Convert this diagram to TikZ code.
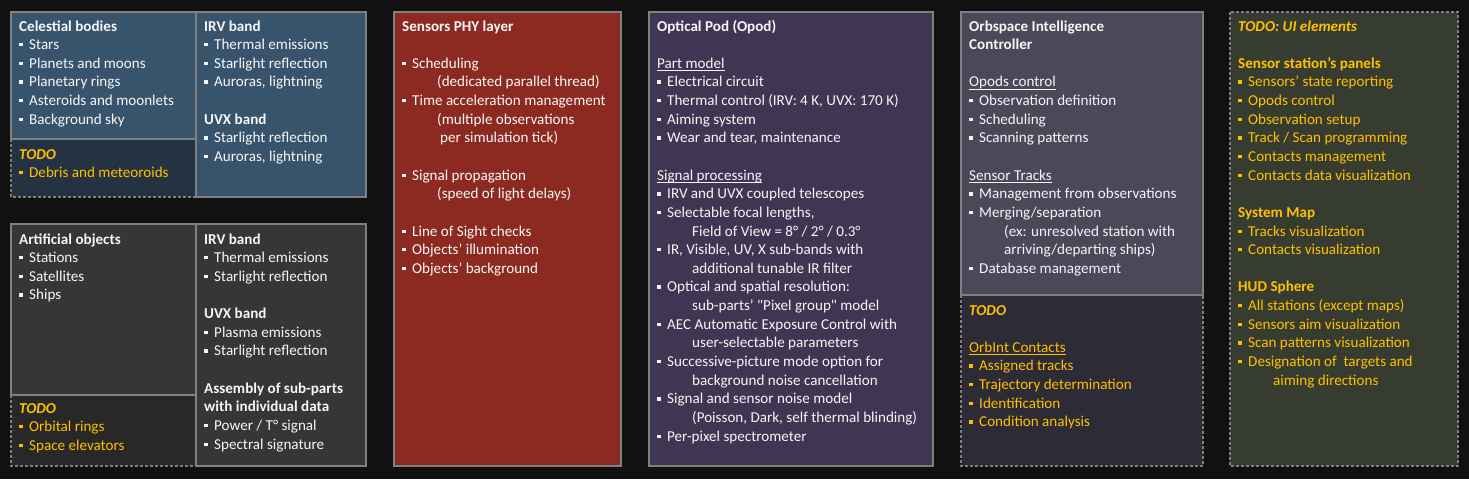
\documentclass[tikz,border=0pt]{standalone}
\usepackage{fontspec}
\setmainfont{Carlito}
\newfontfamily\qfont{Carlito}[Ligatures=TeXOff]
\usetikzlibrary{positioning}
\definecolor{bgc}{HTML}{111111}
\definecolor{bluep}{HTML}{38546C}
\definecolor{bluet}{HTML}{243241}
\definecolor{greyp}{HTML}{363636}
\definecolor{greyt}{HTML}{282828}
\definecolor{redp}{HTML}{8C2A21}
\definecolor{purp}{HTML}{3E3653}
\definecolor{orbp}{HTML}{4A4859}
\definecolor{orbt}{HTML}{2D2B35}
\definecolor{olvp}{HTML}{363C2F}
\definecolor{brd}{HTML}{808080}
\definecolor{txt}{HTML}{F6F6F6}
\definecolor{yel}{HTML}{FFC000}
\newcommand\bul{\hbox to 10pt{\raise3.2pt\hbox{\vrule width3.3pt height3.3pt}\hss}}
\newcommand\Tl[1]{\hbox{\bfseries #1}}
\newcommand\Td[1]{\hbox{\bfseries\itshape #1}}
\newcommand\It[1]{\hbox{\bul #1}}
\newcommand\Cn[1]{\hbox{\kern35pt #1}}
\newcommand\Bl{\hbox{}}
\newcommand\Ul[1]{\hbox{\setbox0\hbox{#1}\rlap{\vrule width\wd0 height-1.6pt depth2.5pt}\box0}}
\newcommand\Blk[1]{\vtop{\hsize=300pt\baselineskip=18.64pt\lineskiplimit=-\maxdimen\lineskip=0pt #1}}
\tikzset{
  panel/.style={draw=brd, line width=1.3pt},
  todo/.style={draw=brd, line width=1.3pt, dash pattern=on 3pt off 2pt},
  txtb/.style={anchor=base west, inner sep=0pt, text=txt, font=\fontsize{15.1pt}{18.64pt}\selectfont},
  txty/.style={txtb, text=yel}
}
\begin{document}
\begin{tikzpicture}[x=1pt,y=-1pt]
\useasboundingbox (0,0) rectangle (1469,479);
\fill[bgc] (0,0) rectangle (1469,479);
% dashed TODO areas first
\filldraw[todo, fill=bluet] (11,139) rectangle (196,197);
\filldraw[todo, fill=greyt] (11,395) rectangle (196,466);
\filldraw[todo, fill=orbt] (961,295) rectangle (1203,466);
\filldraw[todo, fill=olvp] (1230,12) rectangle (1458,466);
% solid panels
\filldraw[panel, fill=bluep] (11,12) rectangle (196,139);
\filldraw[panel, fill=bluep] (196,12) rectangle (366,197);
\filldraw[panel, fill=greyp] (11,224) rectangle (196,395);
\filldraw[panel, fill=greyp] (196,224) rectangle (366,466);
\filldraw[panel, fill=redp] (394,12) rectangle (621,466);
\filldraw[panel, fill=purp] (649,12) rectangle (933,466);
\filldraw[panel, fill=orbp] (961,12) rectangle (1203,295);

\node[txtb] (celest) at (19,31) {\Blk{\Tl{Celestial bodies}\It{Stars}\It{Planets and moons}\It{Planetary rings}\It{Asteroids and moonlets}\It{Background sky}}};
\node[txty] (celtodo) at (19,159) {\Blk{\Td{TODO}\It{Debris and meteoroids}}};
\node[txtb] (celband) at (204,31) {\Blk{\Tl{IRV band}\It{Thermal emissions}\It{Starlight reflection}\It{Auroras, lightning}\Bl\Tl{UVX band}\It{Starlight reflection}\It{Auroras, lightning}}};

\node[txtb] (artif) at (19,244) {\Blk{\Tl{Artificial objects}\It{Stations}\It{Satellites}\It{Ships}}};
\node[txty] (arttodo) at (19,413) {\Blk{\Td{TODO}\It{Orbital rings}\It{Space elevators}}};
\node[txtb] (artband) at (204,244) {\Blk{\Tl{IRV band}\It{Thermal emissions}\It{Starlight reflection}\Bl\Tl{UVX band}\It{Plasma emissions}\It{Starlight reflection}\Bl\Tl{Assembly of sub-parts}\Tl{with individual data}\It{Power / T° signal}\It{Spectral signature}}};

\node[txtb] (phy) at (402,31) {\Blk{\Tl{Sensors PHY layer}\Bl\It{Scheduling}\Cn{(dedicated parallel thread)}\It{Time acceleration management}\Cn{(multiple observations}\Cn{\kern3pt per simulation tick)}\Bl\It{Signal propagation}\Cn{(speed of light delays)}\Bl\It{Line of Sight checks}\It{Objects’ illumination}\It{Objects’ background}}};

\node[txtb] (opod) at (657,31) {\Blk{\Tl{Optical Pod (Opod)}\Bl\Ul{Part model}\It{Electrical circuit}\It{Thermal control (IRV: 4 K, UVX: 170 K)}\It{Aiming system}\It{Wear and tear, maintenance}\Bl\Ul{Signal processing}\It{IRV and UVX coupled telescopes}\It{Selectable focal lengths,}\Cn{Field of View = 8° / 2° / 0.3°}\It{IR, Visible, UV, X sub-bands with}\Cn{additional tunable IR filter}\It{Optical and spatial resolution:}\Cn{sub-parts’ {\qfont"}Pixel group{\qfont"} model}\It{AEC Automatic Exposure Control with}\Cn{user-selectable parameters}\It{Successive-picture mode option for}\Cn{background noise cancellation}\It{Signal and sensor noise model}\Cn{(Poisson, Dark, self thermal blinding)}\It{Per-pixel spectrometer}}};

\node[txtb] (orbint) at (969,31) {\Blk{\Tl{Orbspace Intelligence}\Tl{Controller}\Bl\Ul{Opods control}\It{Observation definition}\It{Scheduling}\It{Scanning patterns}\Bl\Ul{Sensor Tracks}\It{Management from observations}\It{Merging/separation}\Cn{(ex: unresolved station with}\Cn{arriving/departing ships)}\It{Database management}}};
\node[txty] (orbtodo) at (969,315) {\Blk{\Td{TODO}\Bl\Ul{OrbInt Contacts}\It{Assigned tracks}\It{Trajectory determination}\It{Identification}\It{Condition analysis}}};

\node[txty] (uitodo) at (1238,31) {\Blk{\Td{TODO: UI elements}\Bl\Tl{Sensor station’s panels}\It{Sensors’ state reporting}\It{Opods control}\It{Observation setup}\It{Track / Scan programming}\It{Contacts management}\It{Contacts data visualization}\Bl\Tl{System Map}\It{Tracks visualization}\It{Contacts visualization}\Bl\Tl{HUD Sphere}\It{All stations (except maps)}\It{Sensors aim visualization}\It{Scan patterns visualization}\It{Designation of\ \ targets and}\Cn{aiming directions}}};
\end{tikzpicture}
\end{document}
